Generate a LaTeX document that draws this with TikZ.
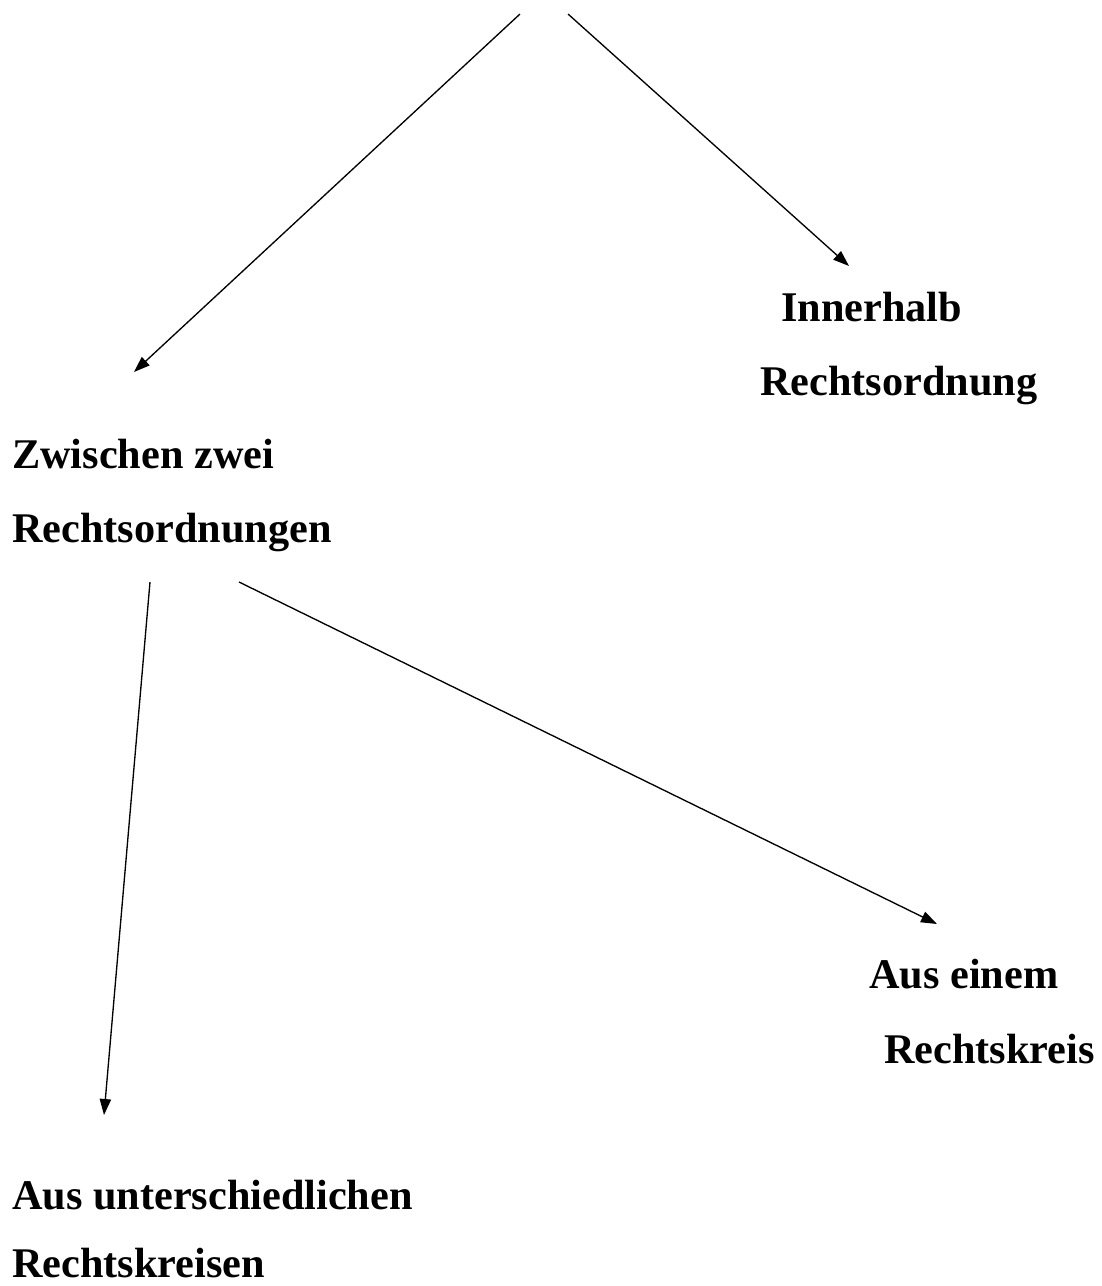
\documentclass[tikz,border=0pt]{standalone}
\usepackage{fontspec}
\setmainfont{Liberation Serif}
\usetikzlibrary{arrows.meta}

\begin{document}
\begin{tikzpicture}[x=0.75pt,y=-0.75pt,>={Triangle[length=12pt,width=8.5pt]},
  lbl/.style={anchor=base west,inner sep=0pt,font=\fontsize{31.7}{38}\selectfont\bfseries},
  arr/.style={->,line width=1pt}]
\useasboundingbox (0,0) rectangle (1101,1286);
\node[lbl] (inn1) at (781,321) {Innerhalb};
\node[lbl] (inn2) at (760,395) {Rechtsordnung};
\node[lbl] (zw1) at (12,468) {Zwischen zwei};
\node[lbl] (zw2) at (12,542) {Rechtsordnungen};
\node[lbl] (ein1) at (869,988) {Aus einem};
\node[lbl] (ein2) at (884,1063) {Rechtskreis};
\node[lbl] (unt1) at (12,1209) {Aus unterschiedlichen};
\node[lbl] (unt2) at (12,1277) {Rechtskreisen};
% free ends of the connectors
\coordinate (topL) at (520,14);
\coordinate (topR) at (568,14);
\coordinate (tipZw) at (134,372);
\coordinate (tipInn) at (849,266);
\coordinate (fromL) at (150,582);
\coordinate (fromR) at (239,582);
\coordinate (tipUnt) at (104,1115);
\coordinate (tipEin) at (937,924);
\draw[arr] (topL) -- (tipZw);
\draw[arr] (topR) -- (tipInn);
\draw[arr] (fromL) -- (tipUnt);
\draw[arr] (fromR) -- (tipEin);
\end{tikzpicture}
\end{document}
